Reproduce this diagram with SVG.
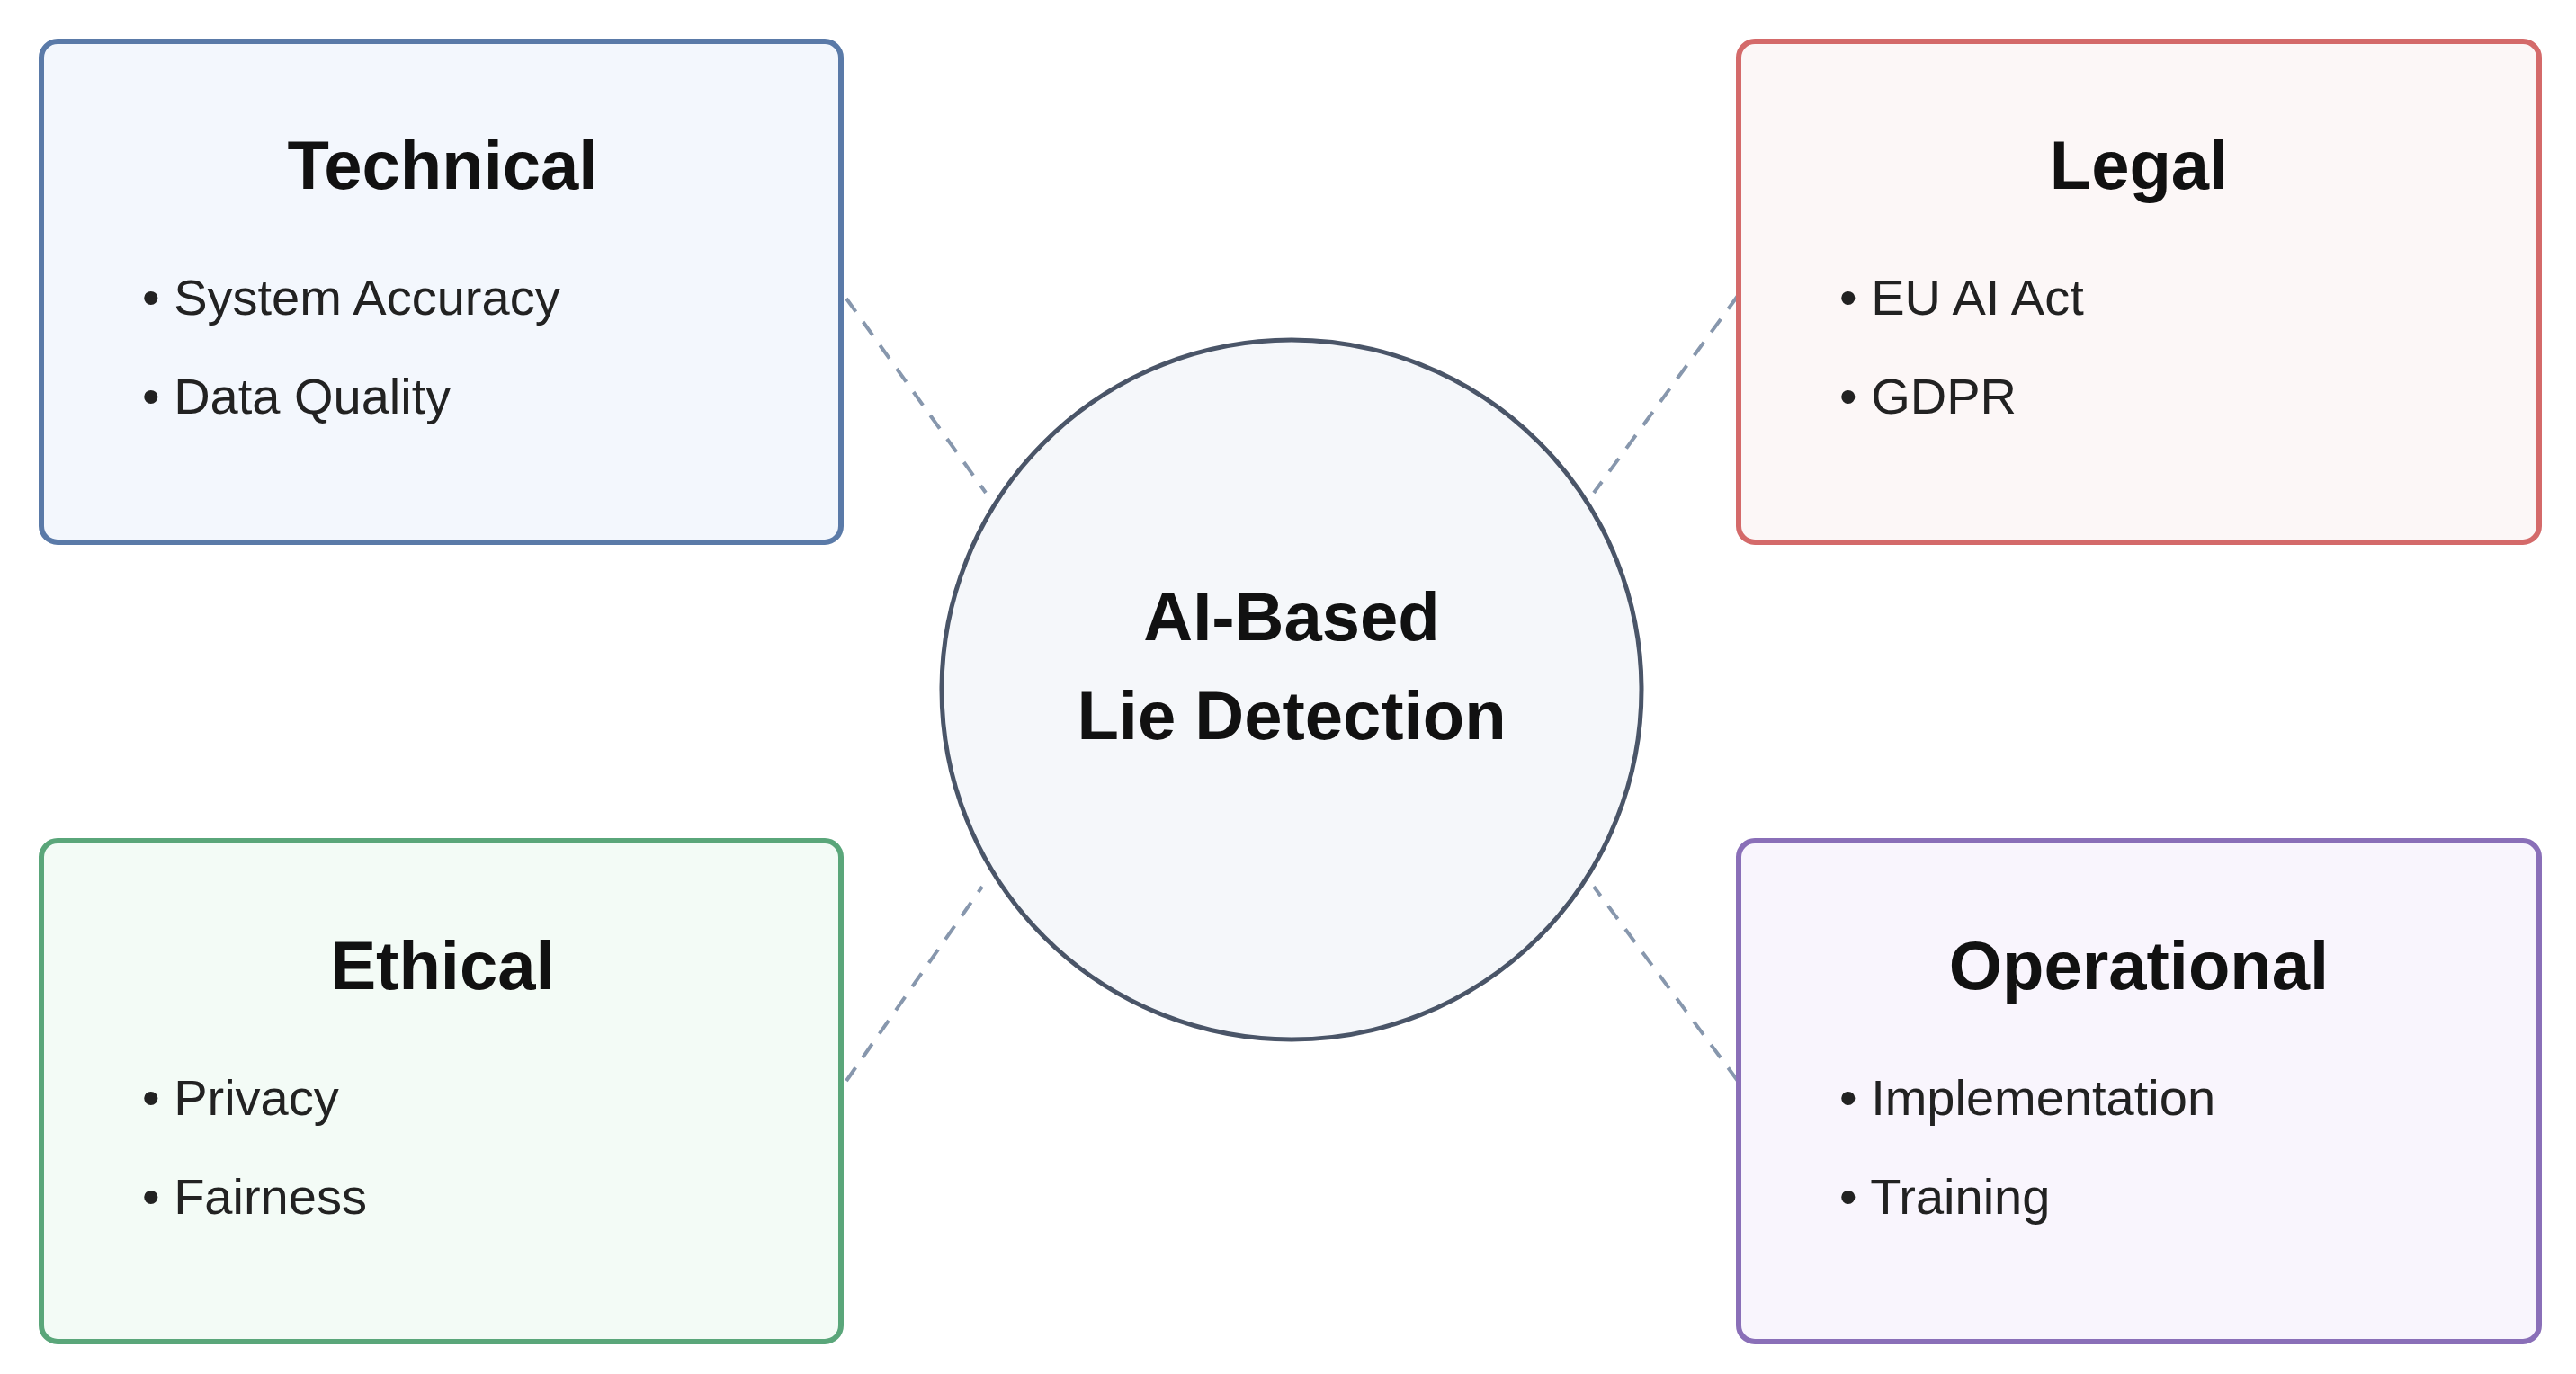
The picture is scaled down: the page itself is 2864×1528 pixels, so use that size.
<svg xmlns="http://www.w3.org/2000/svg" width="2864" height="1528" viewBox="0 0 2864 1528">
<style>
.box{stroke-width:6}
.title{font-family:"Liberation Sans",Arial,sans-serif;font-weight:bold;font-size:76px;fill:#111;text-anchor:middle}
.item{font-family:"Liberation Sans",Arial,sans-serif;font-size:56px;fill:#222}
.conn{stroke:#8797ad;stroke-width:4;stroke-dasharray:18 14;fill:none}
</style>
<rect width="2864" height="1528" fill="#fff"/>
<g id="connectors">
<line class="conn" x1="941" y1="332" x2="1096" y2="548"/>
<line class="conn" x1="1932" y1="329" x2="1772" y2="548"/>
<line class="conn" x1="941" y1="1202" x2="1092" y2="986"/>
<line class="conn" x1="1932" y1="1202" x2="1772" y2="986"/>
</g>
<g id="technical">
<rect class="box" x="46" y="46" width="889" height="557" rx="18" fill="#f3f7fd" stroke="#5a7aa8"/>
<text class="title" x="492" y="210">Technical</text>
<text class="item" x="158" y="350">• System Accuracy</text>
<text class="item" x="158" y="460">• Data Quality</text>
</g>
<g id="legal">
<rect class="box" x="1933" y="46" width="890" height="557" rx="18" fill="#fcf7f7" stroke="#d46a6a"/>
<text class="title" x="2378" y="210">Legal</text>
<text class="item" x="2045" y="350">• EU AI Act</text>
<text class="item" x="2045" y="460">• GDPR</text>
</g>
<g id="ethical">
<rect class="box" x="46" y="935" width="889" height="557" rx="18" fill="#f3fbf6" stroke="#5aa67a"/>
<text class="title" x="492" y="1100">Ethical</text>
<text class="item" x="158" y="1240">• Privacy</text>
<text class="item" x="158" y="1350">• Fairness</text>
</g>
<g id="operational">
<rect class="box" x="1933" y="935" width="890" height="557" rx="18" fill="#f9f5fd" stroke="#8a6fb8"/>
<text class="title" x="2378" y="1100">Operational</text>
<text class="item" x="2045" y="1240">• Implementation</text>
<text class="item" x="2045" y="1350">• Training</text>
</g>
<g id="center">
<circle cx="1436" cy="767" r="389" fill="#f5f7fa" stroke="#4a5568" stroke-width="5"/>
<text class="title" x="1436" y="712">AI-Based</text>
<text class="title" x="1436" y="822">Lie Detection</text>
</g>
</svg>
